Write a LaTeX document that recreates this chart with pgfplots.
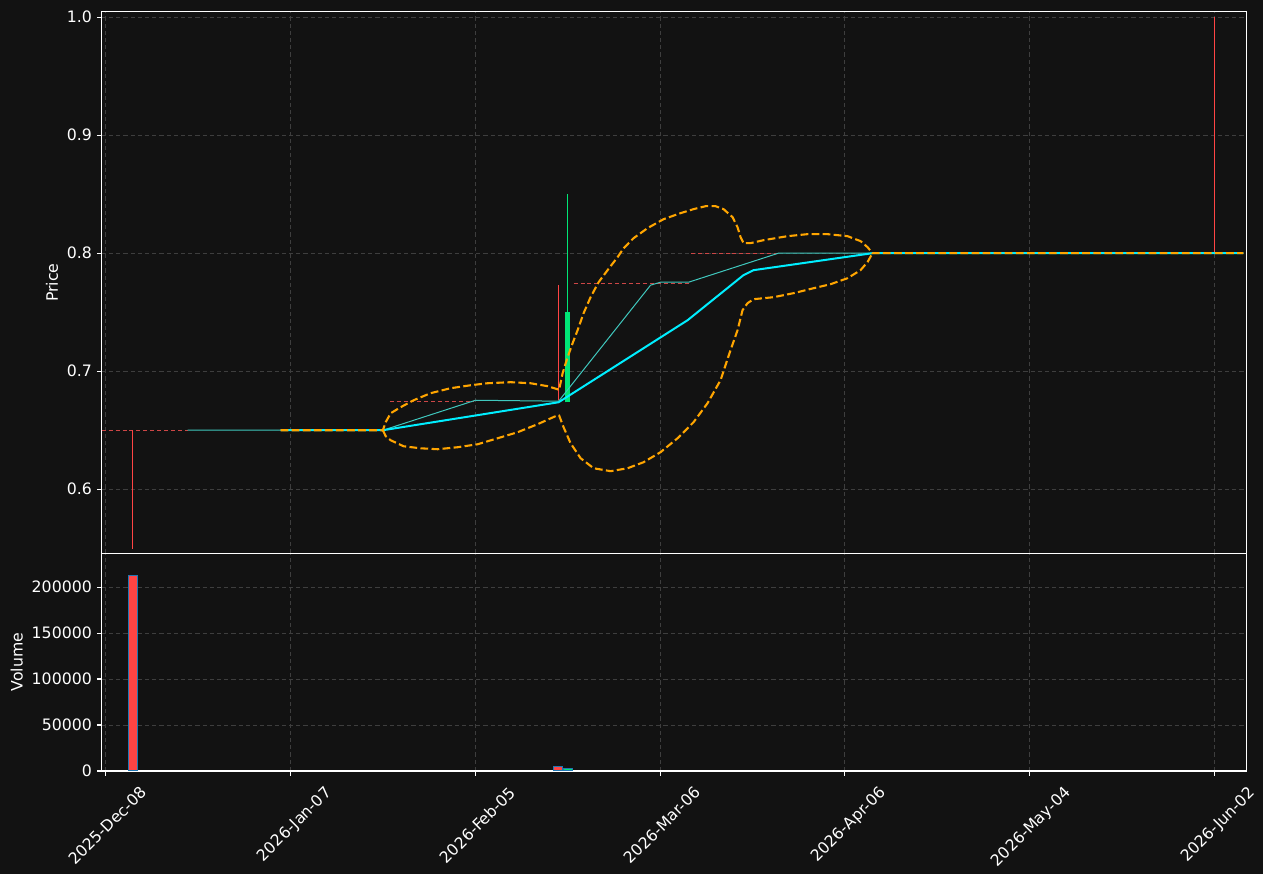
\documentclass[border=0pt]{standalone}
\usepackage{pgfplots}
\pgfplotsset{compat=1.18}
\usepackage{fontspec}
\setmainfont{DejaVu Sans}
\definecolor{bg}{RGB}{18,18,18}
\definecolor{gridc}{RGB}{62,62,62}
\definecolor{orangec}{RGB}{255,165,0}
\definecolor{cyanc}{RGB}{0,238,255}
\definecolor{tealc}{RGB}{64,200,190}
\definecolor{redc}{RGB}{255,68,68}
\definecolor{reddash}{RGB}{205,70,70}
\definecolor{greenc}{RGB}{0,230,118}
\definecolor{edgec}{RGB}{31,119,180}
\pgfplotsset{
  darkax/.style={
    scale only axis, width=858.45pt,
    axis background/.style={fill=bg},
    axis line style={white, line width=0.9pt},
    tick style={white, line width=0.83pt},
    tick align=outside, tick pos=left,
    major tick length=3.65pt,
    grid=major,
    major grid style={gridc, line width=0.75pt, dash pattern=on 3.2pt off 2.2pt},
    xmin=-0.65, xmax=185.19,
    xtick={0,30,...,180},
    tick label style={font=\fontsize{11.8}{13}\selectfont, color=white},
    label style={font=\fontsize{11.8}{13}\selectfont, color=white},
    /pgf/number format/assume math mode=true,
    yticklabel style={anchor=east, inner sep=0pt, xshift=-3.6pt},
  }
}
\begin{document}
\begin{tikzpicture}
\fill[bg] (0,0) rectangle (947.25pt,655.5pt);
% ---------------- price panel ----------------
\begin{axis}[darkax, at={(76.3pt,240.4pt)}, anchor=south west, height=406.35pt,
  ymin=0.5456, ymax=1.0046,
  ytick={0.6,0.7,0.8,0.9,1.0},
  yticklabel style={/pgf/number format/fixed, /pgf/number format/fixed zerofill, /pgf/number format/precision=1},
  xticklabels={}, xtick style={draw=none},
  ylabel={Price},
  ylabel style={at={(axis description cs:-0.04345,0.5)}, anchor=center},
]
% reference dashed levels
\addplot[reddash, line width=0.75pt, dash pattern=on 3pt off 2.2pt] coordinates {(-0.65,0.65) (13.31,0.65)};
\addplot[reddash, line width=0.75pt, dash pattern=on 3pt off 2.2pt] coordinates {(46.1,0.674) (59.7,0.674)};
\addplot[reddash, line width=0.75pt, dash pattern=on 3pt off 2.2pt] coordinates {(75.96,0.7745) (94.96,0.7745)};
\addplot[reddash, line width=0.75pt, dash pattern=on 3pt off 2.2pt] coordinates {(95.0,0.80) (109.2,0.80)};
% candles
\addplot[redc, line width=0.75pt] coordinates {(4.35,0.65) (4.35,0.5492)};
\addplot[redc, line width=0.75pt] coordinates {(73.45,0.6754) (73.45,0.7729)};
\addplot[greenc, line width=0.75pt] coordinates {(75.05,0.75) (75.05,0.85)};
\addplot[greenc, line width=3.75pt] coordinates {(75.05,0.6737) (75.05,0.75)};
\addplot[redc, line width=0.75pt] coordinates {(180,0.80) (180,1.0)};
% thin teal line
\addplot[tealc, line width=0.75pt, line join=round] coordinates {
 (13.31,0.65) (45.0,0.65) (60.05,0.6754) (73.53,0.6746) (88.46,0.7729) (90.08,0.7754)
 (94.63,0.7754) (109.24,0.80) (124.5,0.80)};
% thick cyan line
\addplot[cyanc, line width=1.5pt, line join=round] coordinates {
 (28.4,0.65) (45.0,0.65) (73.53,0.6737) (94.47,0.7432) (103.55,0.7814) (105.18,0.7856)
 (124.5,0.80) (184.7,0.80)};
% orange band upper
\addplot[orangec, line width=1.56pt, dash pattern=on 5.8pt off 2.5pt, line join=round] coordinates {
 (28.4,0.65) (45.0,0.65) (45.45,0.6568) (46.26,0.6644) (47.88,0.6695) (49.99,0.6754)
 (52.75,0.6814) (56.0,0.6856) (59.24,0.6881) (62.0,0.6898) (65.74,0.6907) (68.98,0.6898)
 (71.74,0.6873) (73.37,0.6847) (73.6,0.684) (74.18,0.6983) (74.99,0.7119) (75.80,0.7237)
 (76.61,0.7347) (77.59,0.7492) (78.72,0.7627) (80.02,0.7754) (81.48,0.7856) (83.10,0.7966)
 (84.08,0.8042) (85.70,0.8127) (87.97,0.8212) (90.57,0.8288) (93.33,0.8339) (95.44,0.8373)
 (97.39,0.8398) (99.01,0.8398) (100.31,0.8373) (101.77,0.8305) (102.58,0.8220) (103.07,0.8136)
 (103.55,0.8085) (104.69,0.8085) (106.80,0.8110) (110.70,0.8144) (113.94,0.8161) (117.19,0.8161)
 (120.44,0.8144) (122.55,0.8102) (123.68,0.8051) (124.5,0.80) (184.7,0.80)};
% orange band lower
\addplot[orangec, line width=1.56pt, dash pattern=on 5.8pt off 2.5pt, line join=round] coordinates {
 (45.0,0.65) (45.45,0.645) (46.26,0.6415) (48.37,0.6364) (51.13,0.6347) (53.89,0.6339)
 (57.13,0.6356) (60.38,0.6381) (63.63,0.6432) (66.87,0.6483) (70.12,0.6551) (73.37,0.6627)
 (73.6,0.6627) (74.34,0.6525) (75.47,0.6390) (77.10,0.6263) (79.21,0.6178) (81.97,0.6153)
 (84.73,0.6178) (87.32,0.6229) (90.08,0.6314) (92.84,0.6432) (95.44,0.6568) (97.71,0.6729)
 (99.82,0.6924) (101.44,0.7178) (102.58,0.7347) (103.39,0.7517) (104.20,0.7576) (105.18,0.7610)
 (108.42,0.7627) (111.67,0.7661) (114.92,0.7703) (117.68,0.7737) (120.44,0.7788) (122.55,0.7856)
 (123.68,0.7924) (124.5,0.80)};
\end{axis}
% ---------------- volume panel ----------------
\begin{axis}[darkax, at={(76.3pt,77.25pt)}, anchor=south west, height=163.1pt,
  ymin=0, ymax=236500,
  ytick={0,50000,100000,150000,200000},
  scaled y ticks=false,
  yticklabel style={/pgf/number format/fixed, /pgf/number format/1000 sep={}},
  xticklabels={2025-Dec-08,2026-Jan-07,2026-Feb-05,2026-Mar-06,2026-Apr-06,2026-May-04,2026-Jun-02},
  xticklabel style={xshift=25pt, yshift=-7pt, rotate=45, anchor=north east, inner sep=0pt},
  ylabel={Volume},
  ylabel style={at={(axis description cs:-0.07426,0.5)}, anchor=center},
]
\addplot[ybar, bar width=1.46, bar shift=0pt, fill=redc, draw=edgec, line width=0.75pt] coordinates {(4.4,213000)};
\addplot[ybar, bar width=1.46, bar shift=0pt, fill=redc, draw=edgec, line width=0.75pt] coordinates {(73.5,5000)};
\addplot[ybar, bar width=1.46, bar shift=0pt, fill=greenc, draw=edgec, line width=0.75pt] coordinates {(75.05,2800)};
\end{axis}
\pgfresetboundingbox
\path[use as bounding box] (0,0) rectangle (947.25pt,655.5pt);
\end{tikzpicture}
\end{document}
